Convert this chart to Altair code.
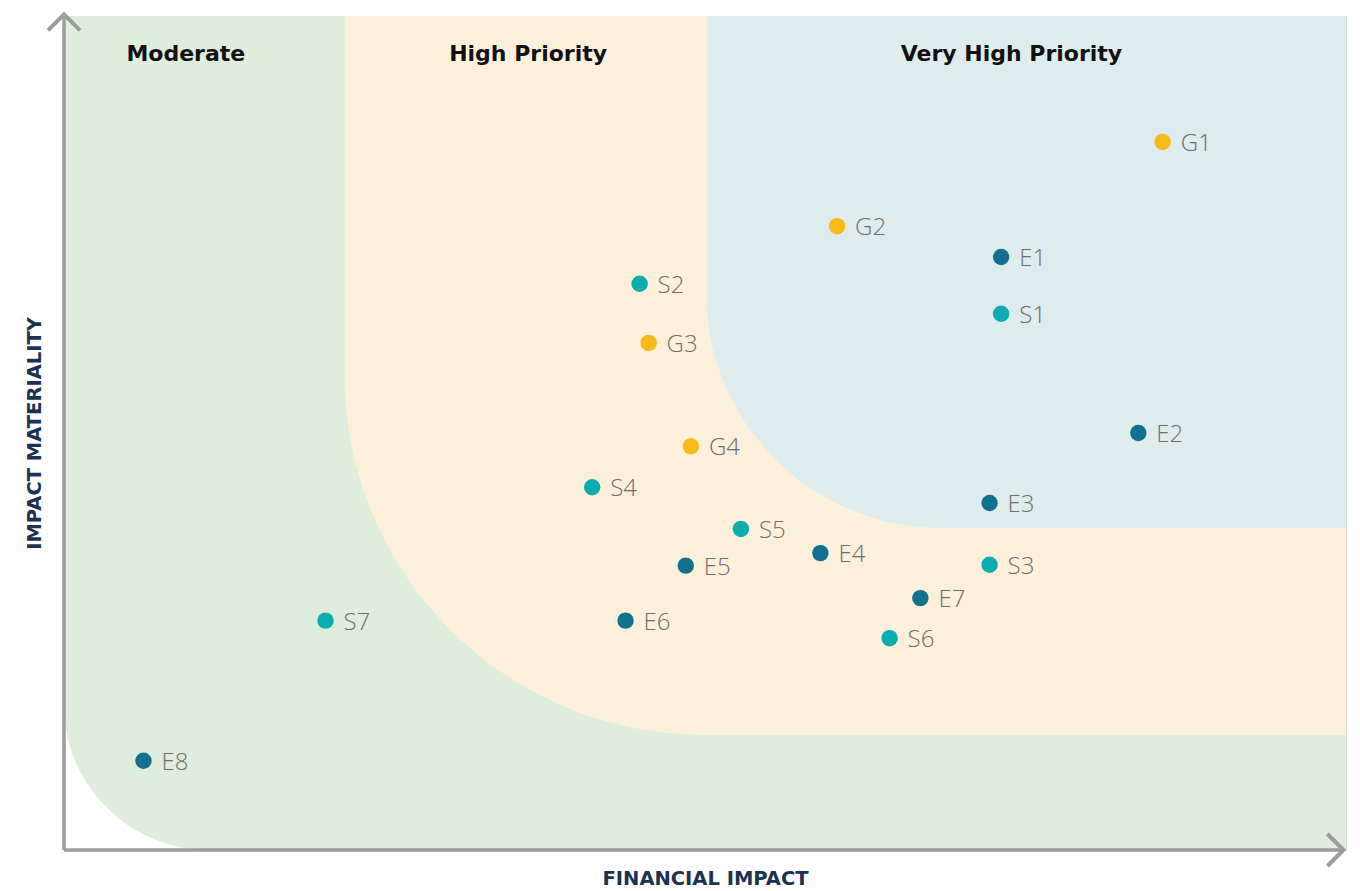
import altair as alt
import pandas as pd

# Topic data
topics = ["G1", "G2", "E1", "S2", "S1", "G3", "E2", "G4", "S4", "E3",
          "S5", "E4", "E5", "S3", "E7", "S7", "E6", "S6", "E8"]
pillar = ["G", "G", "E", "S", "S", "G", "E", "G", "S", "E",
          "S", "E", "E", "S", "E", "S", "E", "S", "E"]
financial = [8.57, 6.03, 7.31, 4.49, 7.31, 4.56, 8.38, 4.89, 4.12, 7.22,
             5.28, 5.90, 4.85, 7.22, 6.68, 2.04, 4.38, 6.44, 0.62]
impact = [8.49, 7.48, 7.11, 6.79, 6.43, 6.08, 5.00, 4.84, 4.35, 4.16,
          3.85, 3.56, 3.41, 3.42, 3.02, 2.75, 2.75, 2.54, 1.07]

# Priority zones (data coordinates)
zone_names = ["Moderate", "High Priority", "Very High Priority"]
zone_x0 = [0.0, 2.19, 5.01]
zone_y0 = [0.0, 1.38, 3.86]
zone_x1 = [10.0, 10.0, 10.0]
zone_y1 = [10.0, 10.0, 10.0]
zone_colors = ["#dfeddc", "#fdf0db", "#dfeced"]
zone_radius = [145, 360, 235]
zone_label_x = [0.95, 3.62, 7.39]
zone_label_y = [9.54, 9.54, 9.54]

pillar_domain = ["E", "S", "G"]
pillar_colors = ["#12718f", "#0badb1", "#f8b91a"]

FONT = "Open Sans"
BOLD_FONT = "DejaVu Sans"

xs = alt.Scale(domain=[0, 10], nice=False, zero=False)
ys = alt.Scale(domain=[0, 10], nice=False, zero=False)

df = pd.DataFrame({"topic": topics, "pillar": pillar, "fin": financial, "imp": impact})
zones = pd.DataFrame({"name": zone_names, "x0": zone_x0, "y0": zone_y0, "x1": zone_x1,
                      "y1": zone_y1, "lx": zone_label_x, "ly": zone_label_y})

layers = []
for i in range(3):
    layers.append(
        alt.Chart(zones.iloc[[i]]).mark_rect(
            fill=zone_colors[i], cornerRadiusBottomLeft=zone_radius[i], strokeWidth=0
        ).encode(
            x=alt.X("x0:Q", scale=xs, axis=alt.Axis(title="FINANCIAL IMPACT", domain=False, ticks=False,
                                                     labels=False, grid=False, titleFont=BOLD_FONT,
                                                     titleFontSize=19.5, titleFontWeight="bold",
                                                     titleColor="#1b3250", titlePadding=19)),
            x2="x1:Q",
            y=alt.Y("y0:Q", scale=ys, axis=alt.Axis(title="IMPACT MATERIALITY", domain=False, ticks=False,
                                                     labels=False, grid=False, titleFont=BOLD_FONT,
                                                     titleFontSize=19.5, titleFontWeight="bold",
                                                     titleColor="#1b3250", titlePadding=20)),
            y2="y1:Q",
        )
    )

zone_text = alt.Chart(zones).mark_text(
    font=BOLD_FONT, fontSize=22, fontWeight="bold", color="#111111", align="center", baseline="middle"
).encode(x=alt.X("lx:Q", scale=xs), y=alt.Y("ly:Q", scale=ys), text="name:N")

# Axis lines with arrowheads
axes_df = pd.DataFrame({"x": [0.0, 0.0], "y": [0.0, 0.0], "x2": [0.0, 9.98], "y2": [10.02, 0.0]})
axis_lines = alt.Chart(axes_df).mark_rule(color="#9c9c9c", strokeWidth=3.5).encode(
    x=alt.X("x:Q", scale=xs), y=alt.Y("y:Q", scale=ys), x2="x2:Q", y2="y2:Q"
)
up_df = pd.DataFrame({"x": [0.0], "y": [10.02]})
right_df = pd.DataFrame({"x": [9.98], "y": [0.0]})
up_arrow = alt.Chart(up_df).mark_point(
    shape="M -1 1 L 0 0 L 1 1", filled=False, stroke="#9c9c9c", strokeWidth=4, size=1024, opacity=1
).encode(x=alt.X("x:Q", scale=xs), y=alt.Y("y:Q", scale=ys))
right_arrow = alt.Chart(right_df).mark_point(
    shape="M -1 -1 L 0 0 L -1 1", filled=False, stroke="#9c9c9c", strokeWidth=4, size=1024, opacity=1
).encode(x=alt.X("x:Q", scale=xs), y=alt.Y("y:Q", scale=ys))

points = alt.Chart(df).mark_circle(size=270, opacity=1).encode(
    x=alt.X("fin:Q", scale=xs),
    y=alt.Y("imp:Q", scale=ys),
    color=alt.Color("pillar:N", scale=alt.Scale(domain=pillar_domain, range=pillar_colors), legend=None),
)
labels = alt.Chart(df).mark_text(
    font=FONT, fontSize=24, fontWeight=300, color="#6e6e6e", align="left", baseline="middle", dx=18, dy=2
).encode(x=alt.X("fin:Q", scale=xs), y=alt.Y("imp:Q", scale=ys), text="topic:N")

chart = alt.layer(*layers, zone_text, axis_lines, up_arrow, right_arrow, points, labels).properties(
    width=1282, height=834,
    autosize=alt.AutoSizeParams(type="none"),
    padding={"left": 56, "top": 8, "right": 6, "bottom": 40},
).configure_view(stroke=None).configure(background="white")

chart.save("out.html", embed_options={"renderer": "svg", "actions": False})
